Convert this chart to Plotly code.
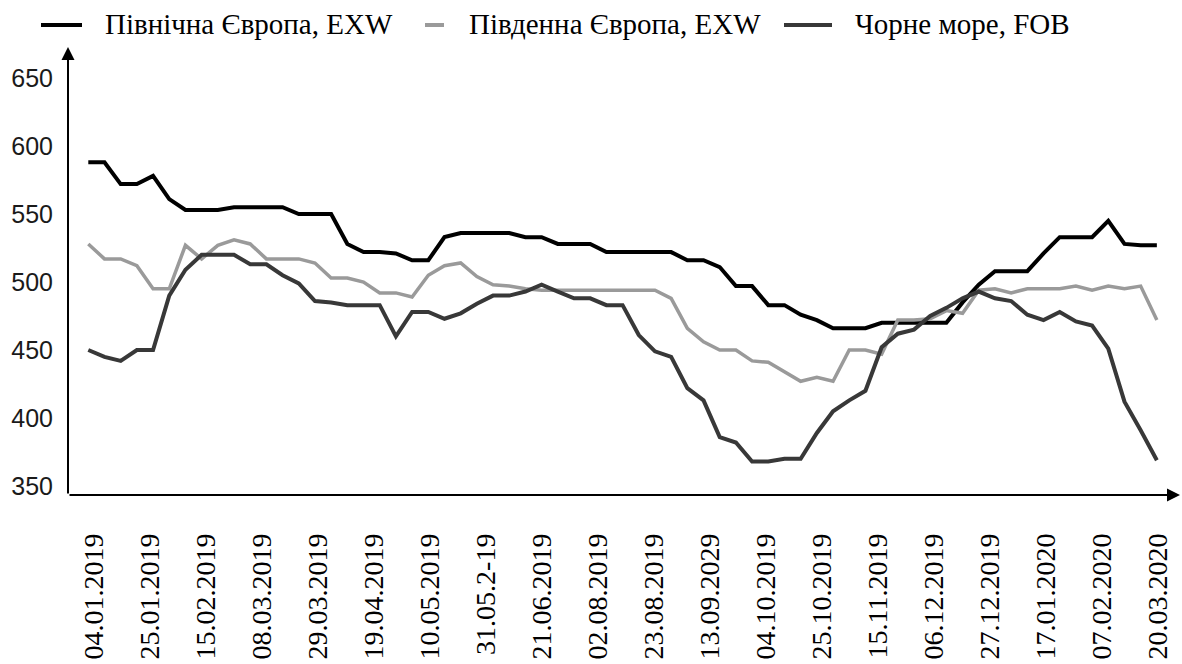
import plotly.graph_objects as go

# weekly prices, USD/t
weeks = list(range(67))

north_eu = [588, 588, 572, 572, 578, 561, 553, 553, 553, 555, 555, 555, 555, 550, 550, 550,
            528, 522, 522, 521, 516, 516, 533, 536, 536, 536, 536, 533, 533, 528, 528, 528,
            522, 522, 522, 522, 522, 516, 516, 511, 497, 497, 483, 483, 476, 472, 466, 466,
            466, 470, 470, 470, 470, 470, 485, 498, 508, 508, 508, 521, 533, 533, 533, 545,
            528, 527, 527]

south_eu = [528, 517, 517, 512, 495, 495, 527, 517, 527, 531, 528, 517, 517, 517, 514, 503,
            503, 500, 492, 492, 489, 505, 512, 514, 504, 498, 497, 495, 494, 494, 494, 494,
            494, 494, 494, 494, 488, 466, 456, 450, 450, 442, 441, 434, 427, 430, 427, 450,
            450, 447, 472, 472, 473, 479, 477, 494, 495, 492, 495, 495, 495, 497, 494, 497,
            495, 497, 472]

black_sea = [450, 445, 442, 450, 450, 490, 509, 520, 520, 520, 513, 513, 505, 499, 486, 485,
             483, 483, 483, 460, 478, 478, 473, 477, 484, 490, 490, 493, 498, 493, 488, 488,
             483, 483, 461, 449, 445, 422, 413, 386, 382, 368, 368, 370, 370, 389, 405, 413,
             420, 452, 462, 465, 475, 481, 488, 493, 488, 486, 476, 472, 478, 471, 468, 451,
             412, 391, 369]

tick_labels = ["04.01.2019", "25.01.2019", "15.02.2019", "08.03.2019", "29.03.2019",
               "19.04.2019", "10.05.2019", "31.05.2-19", "21.06.2019", "02.08.2019",
               "23.08.2019", "13.09.2029", "04.10.2019", "25.10.2019", "15.11.2019",
               "06.12.2019", "27.12.2019", "17.01.2020", "07.02.2020", "20.03.2020"]
y_ticks = [350, 400, 450, 500, 550, 600, 650]

series = ["Північна Європа, EXW", "Південна Європа, EXW", "Чорне море, FOB"]
colors = ["#000000", "#9a9a9a", "#383838"]

SERIF = "Liberation Serif"
SANS = "Liberation Sans"

W, H = 1182, 664
L, R, T, B = 68, 1180, 47, 495  # plot area in pixels


def px_x(p):
    return (p - L) / (R - L)


def px_y(p):
    return (B - p) / (B - T)


fig = go.Figure()
for name, vals, col in zip(series, [north_eu, south_eu, black_sea], colors):
    fig.add_trace(go.Scatter(
        x=weeks, y=vals, mode="lines", name=name, showlegend=False,
        line=dict(color=col, width=4 if col != "#9a9a9a" else 3.5),
    ))

# labels are spread evenly along the axis, not on every 3rd week
tick_pos = [0.34 + k * 3.459 for k in range(len(tick_labels))]

fig.update_layout(
    width=W, height=H,
    margin=dict(l=L, r=W - R, t=T, b=H - B, pad=0),
    plot_bgcolor="white", paper_bgcolor="white",
    xaxis=dict(
        range=[-1.254, 67.43], showgrid=False, zeroline=False, showline=False,
        tickmode="array", tickvals=tick_pos, ticktext=tick_labels, tickangle=-90,
        ticks="", ticklabelstandoff=32, automargin=False,
        tickfont=dict(family=SERIF, size=28, color="#000000"),
    ),
    yaxis=dict(
        range=[343.4, 672.8], showgrid=False, zeroline=False, showline=False,
        tickmode="array", tickvals=y_ticks, ticks="", ticklabelstandoff=14,
        automargin=False,
        tickfont=dict(family=SANS, size=25, color="#1a1a1a"),
    ),
)

# axes drawn as arrows
fig.add_annotation(x=0, y=1, xref="paper", yref="paper", ax=0, ay=B - T, text="",
                   showarrow=True, arrowhead=2, arrowsize=1.3, arrowwidth=2, arrowcolor="#000")
fig.add_annotation(x=1, y=0, xref="paper", yref="paper", ax=-(R - L), ay=0, text="",
                   showarrow=True, arrowhead=2, arrowsize=1.3, arrowwidth=2, arrowcolor="#000")

# legend across the top
legend_items = [(41, 82, 103), (425, 444, 467), (784, 832, 853)]
for (x0, x1, tx), name, col in zip(legend_items, series, colors):
    fig.add_shape(type="line", xref="paper", yref="paper",
                  x0=px_x(x0), x1=px_x(x1), y0=px_y(25), y1=px_y(25),
                  line=dict(color=col, width=4))
    fig.add_annotation(x=px_x(tx), y=px_y(24), xref="paper", yref="paper",
                       text=name, showarrow=False, xanchor="left", yanchor="middle",
                       font=dict(family=SERIF, size=29, color="#000"))

# the page body has a default 8px margin; drop it so the chart sits at (0, 0)
fig.write_html("out.html", config={"displayModeBar": False},
               post_script="document.body.style.margin='0';")
